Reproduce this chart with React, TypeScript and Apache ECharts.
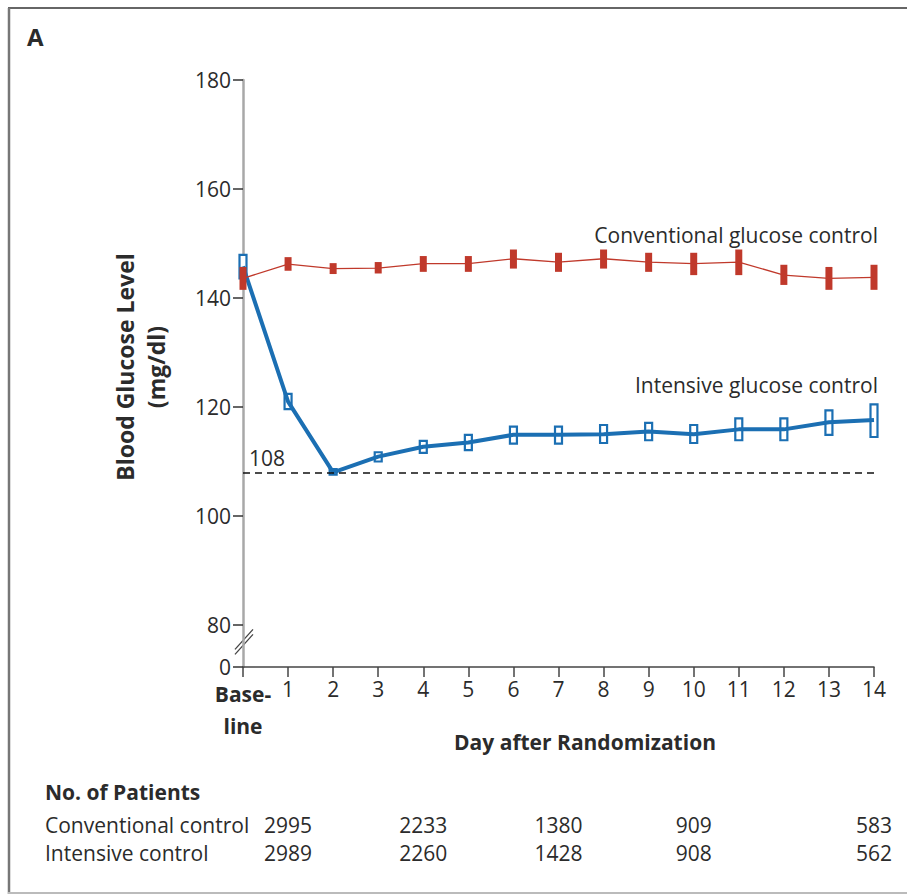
import React, { useEffect, useRef } from "react";
import * as echarts from "echarts";

// ---- data ----
const days = [0, 1, 2, 3, 4, 5, 6, 7, 8, 9, 10, 11, 12, 13, 14];
const yTickValues = [72.3, 80, 100, 120, 140, 160, 180];
const convMean = [143.6, 146.2, 145.4, 145.5, 146.3, 146.3, 147.2, 146.6, 147.2, 146.6, 146.3, 146.6, 144.2, 143.6, 143.8];
const convLow = [141.5, 145.0, 144.4, 144.5, 144.8, 144.8, 145.4, 144.8, 145.4, 144.8, 144.2, 144.2, 142.4, 141.5, 141.5];
const convHigh = [145.7, 147.5, 146.4, 146.6, 147.7, 147.7, 148.9, 148.3, 148.9, 148.3, 148.3, 148.9, 146.1, 145.7, 146.1];
const intMean = [145.8, 121.0, 108.0, 110.9, 112.7, 113.5, 114.9, 114.9, 115.0, 115.5, 115.0, 115.9, 115.9, 117.2, 117.6];
const intLow = [143.6, 119.6, 107.6, 110.0, 111.6, 112.1, 113.3, 113.3, 113.4, 113.9, 113.4, 113.9, 113.9, 114.9, 114.5];
const intHigh = [147.9, 122.4, 108.6, 111.7, 113.8, 114.9, 116.4, 116.4, 116.7, 117.1, 116.7, 117.9, 117.9, 119.4, 120.5];
const targetLevel = 108;
const patientDays = [1, 4, 7, 10, 14];
const convPatients = [2995, 2233, 1380, 909, 583];
const intPatients = [2989, 2260, 1428, 908, 562];

const RED = "#c0392b";
const BLUE = "#1b6fb3";
const TEXT = "#2b2b2b";
const FONT = "'Open Sans', sans-serif";

export default function App() {
  const ref = useRef<HTMLDivElement>(null);
  useEffect(() => {
    if (!ref.current) return;
    const chart = echarts.init(ref.current, undefined, { renderer: "svg" });

    const errRender = (filled: boolean) => (params: any, api: any) => {
      const lo = api.coord([api.value(0), api.value(1)]);
      const hi = api.coord([api.value(0), api.value(2)]);
      const w = 7;
      return {
        type: "rect",
        shape: { x: lo[0] - w / 2, y: hi[1], width: w, height: Math.max(lo[1] - hi[1], 3) },
        style: filled
          ? { fill: RED }
          : { fill: "#fff", stroke: BLUE, lineWidth: 2.2 },
      };
    };

    chart.setOption({
      animation: false,
      grid: { left: 243, right: 33, top: 80, bottom: 229, containLabel: false },
      xAxis: {
        type: "value",
        min: 0,
        max: 14,
        interval: 1,
        axisLine: { lineStyle: { color: "#444", width: 1.5 } },
        axisTick: { length: 10, lineStyle: { color: "#444", width: 1.5 } },
        splitLine: { show: false },
        axisLabel: {
          margin: 11,
          color: TEXT,
          fontFamily: FONT,
          fontSize: 21,
          formatter: (v: number) => (v === 0 ? "{b|Base-}\n{b|line}" : String(v)),
          rich: {
            b: { fontWeight: "bold", fontSize: 21, fontFamily: FONT, color: TEXT, lineHeight: 32 },
          },
        },
      },
      yAxis: {
        type: "value",
        min: 72.3,
        max: 180,
        axisLine: { show: true, lineStyle: { color: "#a8a8a8", width: 2.5 } },
        axisTick: { show: true, length: 10, customValues: yTickValues, lineStyle: { color: "#333", width: 1.5 } },
        splitLine: { show: false },
        axisLabel: {
          customValues: yTickValues,
          margin: 12,
          color: TEXT,
          fontFamily: FONT,
          fontSize: 21,
          formatter: (v: number) => (v < 75 ? "0" : String(Math.round(v))),
        },
      },
      series: [
        {
          type: "custom",
          z: 2,
          renderItem: errRender(false),
          data: days.map((d, i) => [d, intLow[i], intHigh[i]]),
          encode: { x: 0, y: [1, 2] },
        },
        {
          type: "line",
          z: 3,
          symbol: "none",
          data: days.map((d, i) => [d, intMean[i]]),
          lineStyle: { color: BLUE, width: 4 },
          markLine: {
            silent: true,
            symbol: "none",
            data: [{ yAxis: targetLevel }],
            lineStyle: { color: "#111", width: 1.5, type: [7, 5] },
            label: {
              position: "insideStartTop",
              formatter: "108",
              color: TEXT,
              fontFamily: FONT,
              fontSize: 21,
              distance: [6, 4],
            },
          },
        },
        {
          type: "line",
          z: 3,
          symbol: "none",
          data: days.map((d, i) => [d, convMean[i]]),
          lineStyle: { color: RED, width: 1.3 },
        },
        {
          type: "custom",
          z: 4,
          renderItem: errRender(true),
          data: days.map((d, i) => [d, convLow[i], convHigh[i]]),
          encode: { x: 0, y: [1, 2] },
        },
      ],
    });

    const px = (d: number) => chart.convertToPixel({ xAxisIndex: 0 }, d) as number;
    const yMid = chart.convertToPixel({ yAxisIndex: 0 }, 77) as number;
    const axisX = px(0);

    const graphic: any[] = [
      // frame
      { type: "line", shape: { x1: 8, y1: 8, x2: 907, y2: 8 }, style: { stroke: "#666", lineWidth: 2 } },
      { type: "line", shape: { x1: 9, y1: 8, x2: 9, y2: 894 }, style: { stroke: "#777", lineWidth: 2.5 } },
      { type: "line", shape: { x1: 8, y1: 893, x2: 907, y2: 893 }, style: { stroke: "#bbb", lineWidth: 2 } },
      // panel letter
      { type: "text", x: 27, y: 36, style: { text: "A", font: `bold 24px ${FONT}`, fill: TEXT, textVerticalAlign: "middle" } },
      // axis break marks
      { type: "line", shape: { x1: axisX - 8, y1: yMid + 8, x2: axisX + 10, y2: yMid - 12 }, style: { stroke: "#444", lineWidth: 1.3 } },
      { type: "line", shape: { x1: axisX - 8, y1: yMid + 13, x2: axisX + 10, y2: yMid - 7 }, style: { stroke: "#444", lineWidth: 1.3 } },
      // y axis title
      {
        type: "text",
        x: 140,
        y: 367,
        rotation: Math.PI / 2,
        style: {
          text: "Blood Glucose Level\n(mg/dl)",
          font: `bold 23px ${FONT}`,
          fill: TEXT,
          textAlign: "center",
          textVerticalAlign: "middle",
          lineHeight: 31,
        },
      },
      // x axis title
      { type: "text", x: 585, y: 742, style: { text: "Day after Randomization", font: `bold 21px ${FONT}`, fill: TEXT, textAlign: "center", textVerticalAlign: "middle" } },
      // series labels
      { type: "text", x: 878, y: 235, style: { text: "Conventional glucose control", font: `21px ${FONT}`, fill: TEXT, textAlign: "right", textVerticalAlign: "middle" } },
      { type: "text", x: 878, y: 385, style: { text: "Intensive glucose control", font: `21px ${FONT}`, fill: TEXT, textAlign: "right", textVerticalAlign: "middle" } },
      // patients table
      { type: "text", x: 45, y: 792, style: { text: "No. of Patients", font: `bold 21px ${FONT}`, fill: TEXT, textVerticalAlign: "middle" } },
      { type: "text", x: 45, y: 825, style: { text: "Conventional control", font: `21px ${FONT}`, fill: TEXT, textVerticalAlign: "middle" } },
      { type: "text", x: 45, y: 853, style: { text: "Intensive control", font: `21px ${FONT}`, fill: TEXT, textVerticalAlign: "middle" } },
    ];
    patientDays.forEach((d, i) => {
      const x = px(d);
      graphic.push({ type: "text", x, y: 825, style: { text: String(convPatients[i]), font: `21px ${FONT}`, fill: TEXT, textAlign: "center", textVerticalAlign: "middle" } });
      graphic.push({ type: "text", x, y: 853, style: { text: String(intPatients[i]), font: `21px ${FONT}`, fill: TEXT, textAlign: "center", textVerticalAlign: "middle" } });
    });
    chart.setOption({ graphic });

    return () => chart.dispose();
  }, []);
  return <div ref={ref} style={{ position: "absolute", left: 0, top: 0, width: 907, height: 896 }} />;
}
